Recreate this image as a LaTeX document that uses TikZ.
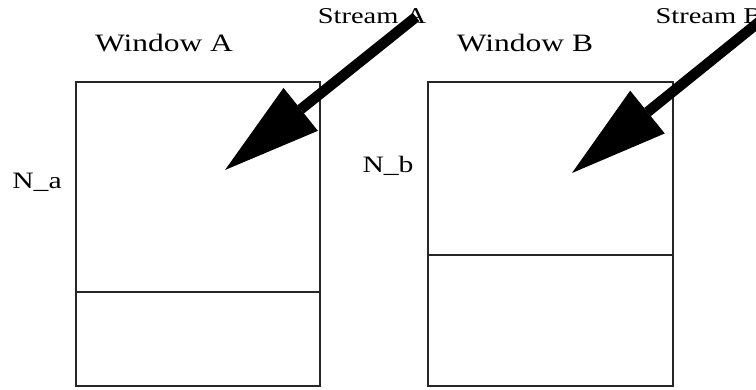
\documentclass[tikz,border=0pt]{standalone}
\usepackage{fontspec}
\setmainfont{Liberation Serif}
\usetikzlibrary{arrows.meta}
\tikzset{
  win/.style={draw=black!85, line width=1.3pt},
  lbl/.style={inner sep=0pt, anchor=base},
  stream/.style={line width=10.5pt, -{Triangle[length=97pt, width=55pt, line width=0pt]}},
}
\newcommand{\wtext}[2]{\scalebox{1.26}[1]{\fontsize{#1}{#1}\selectfont #2}}
\begin{document}
\begin{tikzpicture}[x=1pt, y=-1pt]
\useasboundingbox (0,0) rectangle (756,390);
\clip (0,0) rectangle (756,390);
\fill[white] (0,0) rectangle (756,390);
% windows
\draw[win] (76,82) rectangle (320,386);
\draw[win] (76,292) -- (320,292);
\draw[win] (428,82) rectangle (673,386);
\draw[win] (428,255) -- (673,255);
% labels
\node[lbl] (winA) at (164,52) {\wtext{25}{Window A}};
\node[lbl] (winB) at (525,52) {\wtext{25}{Window B}};
\node[lbl] (stA) at (372,24) {\wtext{22.6}{Stream A}};
\node[lbl] (stB) at (709,24) {\wtext{22.6}{Stream B}};
\node[lbl] (na) at (37,189) {\wtext{23.5}{N\_a}};
\node[lbl] (nb) at (388,173) {\wtext{23.5}{N\_b}};
% arrows
\coordinate (tailA) at (416,17);
\coordinate (tipA) at (225,170);
\coordinate (tailB) at (764,18);
\coordinate (tipB) at (572,173);
\draw[stream] (tailA) -- (tipA);
\draw[stream] (tailB) -- (tipB);
\end{tikzpicture}
\end{document}
